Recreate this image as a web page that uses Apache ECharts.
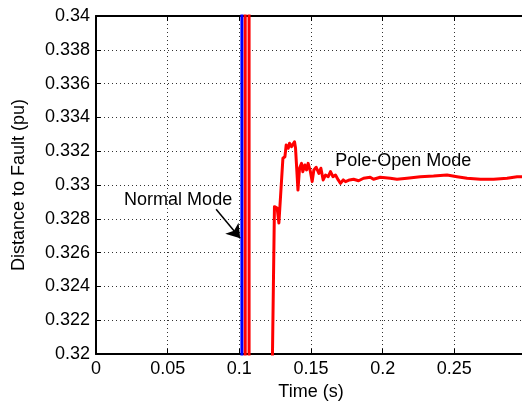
<!DOCTYPE html>
<html>
<head>
<meta charset="utf-8">
<script src="https://cdn.jsdelivr.net/npm/echarts@6/dist/echarts.min.js"></script>
<style>
  html, body { margin: 0; padding: 0; background: #fff; overflow: hidden; }
  #chart { width: 526px; height: 401px; }
</style>
</head>
<body>
<div id="chart"></div>
<script>
// Normal-mode distance estimate (leaves the axis range almost at once)
const normalTime = [0.1018, 0.1018];
const normalDist = [0.30, 0.36];

// Pole-open-mode distance estimate
const poleTime = [
  0.1041, 0.1041, 0.1068, 0.1068, 0.1228,
  0.1245, 0.1264, 0.1276, 0.1299, 0.1304, 0.1318, 0.1327, 0.1341, 0.1350, 0.1364,
  0.1385, 0.1392, 0.1409, 0.1420, 0.1434, 0.1443, 0.1457, 0.1469, 0.1480, 0.1496,
  0.1508, 0.1520, 0.1536, 0.1555, 0.1569, 0.1585, 0.1601, 0.1620, 0.1636, 0.1653,
  0.1671, 0.1690, 0.1706, 0.1725, 0.1741, 0.1769, 0.1797, 0.1832, 0.1867, 0.1913,
  0.1936, 0.1983, 0.2053, 0.2100, 0.2170, 0.2263, 0.2355, 0.2449, 0.2519, 0.2589,
  0.2682, 0.2774, 0.2868, 0.2938, 0.2990
];
const poleDist = [
  0.30, 0.36, 0.36, 0.30, 0.318,
  0.32872, 0.32864, 0.32775, 0.33089, 0.33158, 0.33167, 0.33237, 0.33217, 0.33247, 0.33227,
  0.33256, 0.33219, 0.32970, 0.33099, 0.33128, 0.33079, 0.33118, 0.33089, 0.33128, 0.33079,
  0.33020, 0.33089, 0.33105, 0.33069, 0.33099, 0.33030, 0.33059, 0.33049, 0.33079, 0.33049,
  0.33059, 0.33030, 0.33010, 0.33030, 0.33020, 0.33030, 0.33034, 0.33025, 0.33040, 0.33046,
  0.33034, 0.33046, 0.33040, 0.33034, 0.33040, 0.33049, 0.33053, 0.33059, 0.33049, 0.33040,
  0.33034, 0.33034, 0.33040, 0.33049, 0.33049
];

// Text notes placed in data coordinates
const noteTime = [0.0573, 0.2144];
const noteDist = [0.32911, 0.33142];
const noteText = ['Normal Mode', 'Pole-Open Mode'];

// Arrow from the "Normal Mode" note to the blue trace
const arrowFrom = [0.0838, 0.32856];
const arrowTo = [0.1006, 0.32685];

const xMin = 0, xMax = 0.3, xStep = 0.05;
const yMin = 0.32, yMax = 0.34, yStep = 0.002;

const FONT = "'Liberation Sans', Arial, Helvetica, sans-serif";
const fmt = v => String(Number(v.toFixed(4)));
const pairs = (xs, ys) => xs.map((x, i) => [x, ys[i]]);

const dotted = { color: '#333', width: 1, type: [1, 3] };

const chart = echarts.init(document.getElementById('chart'), null, { renderer: 'canvas' });
chart.setOption({
  animation: false,
  backgroundColor: '#fff',
  grid: { left: 96, right: 0, top: 16, bottom: 47, containLabel: false, outerBoundsMode: 'none' },
  xAxis: [
    {
      type: 'value', min: xMin, max: xMax, interval: xStep,
      name: 'Time (s)', nameLocation: 'middle', nameGap: 23,
      nameTextStyle: { fontFamily: FONT, fontSize: 18, color: '#000' },
      axisLine: { show: true, onZero: false, lineStyle: { color: '#000', width: 2 } },
      axisTick: { show: true, inside: true, length: 5, lineStyle: { color: '#000', width: 1 } },
      axisLabel: { fontFamily: FONT, fontSize: 18, color: '#000', margin: 6,
                   showMaxLabel: false, formatter: fmt },
      splitLine: { show: true, lineStyle: dotted }
    },
    {
      type: 'value', position: 'top', min: xMin, max: xMax, interval: xStep,
      axisLine: { show: true, onZero: false, lineStyle: { color: '#000', width: 2 } },
      axisTick: { show: true, inside: true, length: 5, lineStyle: { color: '#000', width: 1 } },
      axisLabel: { show: false },
      splitLine: { show: false }
    }
  ],
  yAxis: {
    type: 'value', min: yMin, max: yMax, interval: yStep,
    name: 'Distance to Fault (pu)', nameLocation: 'middle', nameGap: 68,
    nameTextStyle: { fontFamily: FONT, fontSize: 18, color: '#000' },
    axisLine: { show: true, onZero: false, lineStyle: { color: '#000', width: 2 } },
    axisTick: { show: true, inside: true, length: 5, lineStyle: { color: '#000', width: 1 } },
    axisLabel: { fontFamily: FONT, fontSize: 18, color: '#000', margin: 6, formatter: fmt },
    splitLine: { show: true, lineStyle: dotted }
  },
  series: [
    {
      name: 'Normal Mode', type: 'line', xAxisIndex: 0,
      data: pairs(normalTime, normalDist),
      showSymbol: false, clip: true,
      lineStyle: { color: '#0000ff', width: 3 }
    },
    {
      name: 'Pole-Open Mode', type: 'line', xAxisIndex: 0,
      data: pairs(poleTime, poleDist),
      showSymbol: false, clip: true,
      lineStyle: { color: '#ff0000', width: 3, join: 'round' }
    },
    {
      name: 'notes', type: 'scatter', xAxisIndex: 0,
      symbolSize: 0, silent: true, z: 5,
      itemStyle: { opacity: 1 },
      data: noteTime.map((t, i) => ({ value: [t, noteDist[i]], text: noteText[i] })),
      label: {
        show: true, position: 'inside', opacity: 1,
        fontFamily: FONT, fontSize: 18, color: '#000',
        formatter: p => p.data.text
      },
      markLine: {
        silent: true, animation: false,
        symbol: ['none', 'arrow'], symbolSize: 13,
        label: { show: false },
        itemStyle: { color: '#000' },
        lineStyle: { color: '#000', width: 1.5, type: 'solid' },
        emphasis: { disabled: true },
        data: [[{ coord: arrowFrom }, { coord: arrowTo }]]
      }
    }
  ]
});
</script>
</body>
</html>
